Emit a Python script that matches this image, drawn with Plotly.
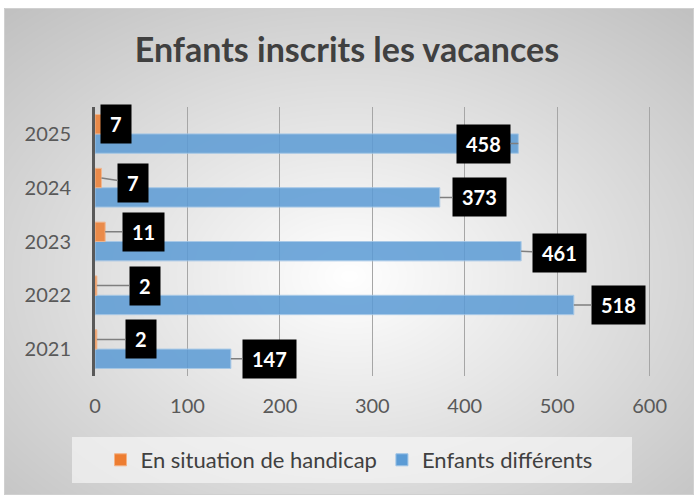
import base64
import struct
import zlib

import numpy as np
import plotly.graph_objects as go

years = ["2021", "2022", "2023", "2024", "2025"]
handicap = [2, 2, 11, 7, 7]
differents = [147, 518, 461, 373, 458]

W, H = 694, 495
MARGIN = dict(l=95, r=43, t=107, b=119)
FONT = "Lato"

# offsets (px) of each label box from the end of its bar, same order as years
handicap_offsets = [(44, 0), (48, 0), (38, 0), (32, 5), (15, 0)]
differents_offsets = [(39, 0), (45, 0), (38, 2), (40, 0), (-35, 0)]


def gradient_png(w, h):
    yy, xx = np.mgrid[0:h, 0:w]
    d = np.sqrt(((xx - w * 0.5) / (w * 0.5)) ** 2 + ((yy - h * 0.55) / (h * 0.5)) ** 2)
    v = np.clip(255 - 42 * d, 185, 255).astype(np.uint8)
    raw = b"".join(b"\x00" + v[i].tobytes() for i in range(h))

    def chunk(tag, data):
        return (struct.pack(">I", len(data)) + tag + data
                + struct.pack(">I", zlib.crc32(tag + data) & 0xFFFFFFFF))

    png = (b"\x89PNG\r\n\x1a\n"
           + chunk(b"IHDR", struct.pack(">IIBBBBB", w, h, 8, 0, 0, 0, 0))
           + chunk(b"IDAT", zlib.compress(raw))
           + chunk(b"IEND", b""))
    return "data:image/png;base64," + base64.b64encode(png).decode()


fig = go.Figure()
fig.add_trace(go.Bar(
    y=years, x=differents, orientation="h", name="Enfants différents",
    marker=dict(color="#5B9BD5", opacity=0.85, line=dict(color="#9DC3E6", width=1)),
    legendrank=2,
))
fig.add_trace(go.Bar(
    y=years, x=handicap, orientation="h", name="En situation de handicap",
    marker=dict(color="#ED7D31", opacity=0.85, line=dict(color="#F4B183", width=1)),
    legendrank=1,
))

plot_w = W - MARGIN["l"] - MARGIN["r"]
plot_h = H - MARGIN["t"] - MARGIN["b"]
bargap = 0.28
bar_px = plot_h / len(years) * (1 - bargap) / 2


def labels(values, offsets, shift):
    out = []
    # on a category axis annotations take the category index
    for idx, (v, (ax, ay)) in enumerate(zip(values, offsets)):
        out.append(dict(
            x=v, y=idx, xref="x", yref="y", yshift=shift,
            text=f"<b>{v}</b>", showarrow=True, arrowhead=0, arrowwidth=1.5,
            arrowcolor="#7f7f7f", ax=ax, ay=ay,
            bgcolor="black", borderpad=5, height=28,
            width=8 + 11.6 * len(str(v)),
            font=dict(family=FONT, size=20, color="white"),
        ))
    return out


annotations = labels(handicap, handicap_offsets, bar_px / 2) + \
    labels(differents, differents_offsets, -bar_px / 2)


def px_x(x):
    return (x - MARGIN["l"]) / plot_w


def px_y(y):
    return (H - MARGIN["b"] - y) / plot_h


fig.add_layout_image(dict(
    source=gradient_png(W - 4, H - 8), xref="paper", yref="paper",
    x=px_x(4), y=px_y(8), sizex=(W - 4) / plot_w, sizey=(H - 8) / plot_h,
    sizing="stretch", layer="below", xanchor="left", yanchor="top",
))

shapes = [
    # legend panel
    dict(type="rect", xref="paper", yref="paper", layer="below",
         x0=px_x(72), x1=px_x(632), y0=px_y(483), y1=px_y(437),
         fillcolor="rgba(245,245,245,0.7)", line=dict(width=0)),
    # chart border
    dict(type="rect", xref="paper", yref="paper", layer="below",
         x0=px_x(4.5), x1=px_x(W - 0.5), y0=px_y(H - 0.5), y1=px_y(8.5),
         fillcolor="rgba(0,0,0,0)", line=dict(color="#d0d0d0", width=1)),
]

fig.update_layout(
    width=W, height=H, margin=MARGIN,
    paper_bgcolor="white", plot_bgcolor="rgba(0,0,0,0)",
    barmode="group", bargap=bargap, bargroupgap=0,
    font=dict(family=FONT, color="#595959"),
    title=dict(text="<b>Enfants inscrits les vacances</b>", x=0.5, xanchor="center",
               y=1 - 50 / H, yanchor="middle", font=dict(size=34, color="#404040")),
    xaxis=dict(range=[0, 601.5], tickvals=[0, 100, 200, 300, 400, 500, 600],
               showgrid=True, gridcolor="#a6a6a6",
               gridwidth=1, zeroline=False, showline=False,
               ticks="outside", ticklen=12, tickcolor="rgba(0,0,0,0)",
               tickfont=dict(size=20, color="#595959")),
    yaxis=dict(type="category", range=[-0.5, len(years) - 0.5],
               showline=True, linecolor="#595959", linewidth=3,
               showgrid=False, ticks="outside", ticklen=17, tickcolor="rgba(0,0,0,0)",
               tickfont=dict(size=20, color="#595959")),
    legend=dict(orientation="h", xref="container", yref="container",
                x=349 / W, xanchor="center", y=1 - 460 / H, yanchor="middle",
                bgcolor="rgba(0,0,0,0)",
                font=dict(size=22, color="#404040")),
    shapes=shapes,
    annotations=annotations,
)

fig.write_html("out.html", config={"displayModeBar": False},
               post_script="document.body.style.margin='0';")
